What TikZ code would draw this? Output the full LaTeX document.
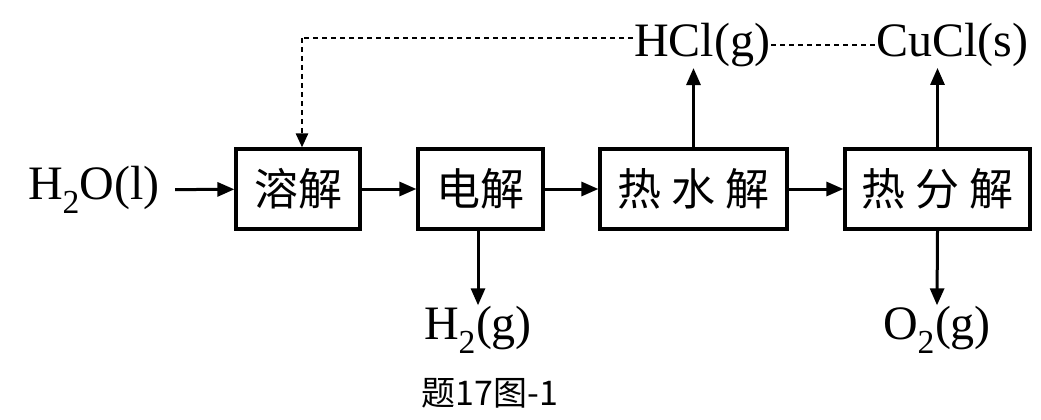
\documentclass[tikz,border=0pt]{standalone}
\usepackage{fontspec}
\setmainfont{Liberation Serif}
\newfontfamily\cjk{Noto Sans CJK SC}
\usetikzlibrary{arrows.meta}
\begin{document}
\begin{tikzpicture}[x=1pt,y=-1pt,
  proc/.style={draw,line width=3.2pt,minimum height=80pt,inner sep=0pt,font=\cjk\fontsize{44}{44}\selectfont},
  lab/.style={inner sep=1pt,font=\fontsize{48}{48}\selectfont},
  flow/.style={line width=3pt,-{Triangle[length=17pt,width=14pt]}},
  dashline/.style={line width=2.6pt,dash pattern=on 5pt off 4pt}]
\useasboundingbox (0,0) rectangle (1041,420);
\node[lab] (h2o) at (94,190) {H\textsubscript{2}O(l)};
\node[proc,minimum width=124pt] (b1) at (298,189) {溶解};
\node[proc,minimum width=125pt] (b2) at (480.5,189) {电解};
\node[proc,minimum width=187pt] (b3) at (693.5,189) {热 水 解};
\node[proc,minimum width=185pt] (b4) at (937.5,189) {热 分 解};
\node[lab] (hcl) at (702,45) {HCl(g)};
\node[lab] (cucl) at (952,45) {CuCl(s)};
\node[lab] (h2) at (478,330) {H\textsubscript{2}(g)};
\node[lab] (o2) at (937,330) {O\textsubscript{2}(g)};
\node[inner sep=1pt,font=\cjk\fontsize{34}{34}\selectfont] (cap) at (490,393) {题17图-1};
\coordinate (corner) at (302,38);
\draw[flow,shorten <=14pt] (h2o) -- (b1);
\draw[flow] (b1) -- (b2);
\draw[flow] (b2) -- (b3);
\draw[flow] (b3) -- (b4);
\draw[flow] (b2.south -| h2) -- (h2.north);
\draw[flow] (b4.south) -- (o2.north);
\draw[flow] (b3.north) -- (b3.north |- hcl.south);
\draw[flow] (b4.north) -- (b4.north |- cucl.south);
\draw[dashline] (hcl.west |- corner) -- (corner);
\draw[dashline,-{Triangle[length=14pt,width=12pt]}] (corner) -- (corner |- b1.north);
\draw[dashline] (hcl.east) -- (cucl.west);
\end{tikzpicture}
\end{document}
